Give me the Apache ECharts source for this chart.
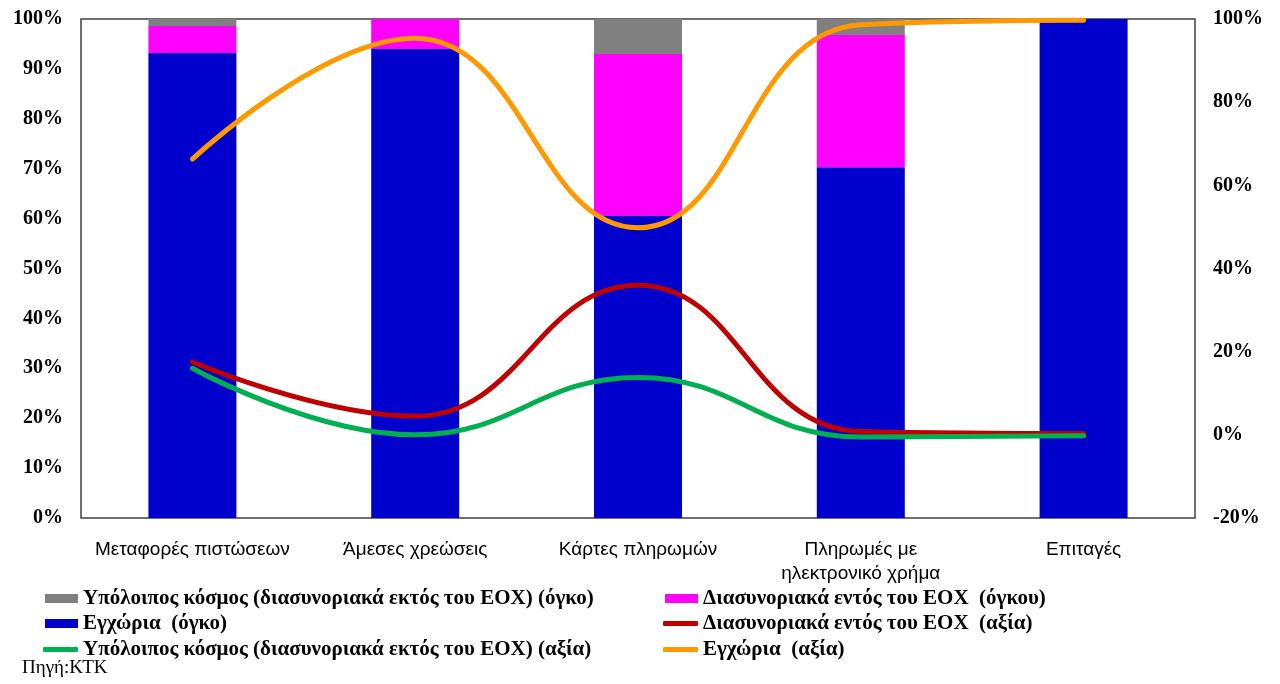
<!DOCTYPE html>
<html>
<head>
<meta charset="utf-8">
<title>Πληρωμές</title>
<script src="https://cdn.jsdelivr.net/npm/echarts@6/dist/echarts.min.js"></script>
<style>
  html, body { margin: 0; padding: 0; background: #fff; }
  #chart { width: 1280px; height: 684px; }
</style>
</head>
<body>
<div id="chart"></div>
<script>
// κατηγορίες
var categories = ["Μεταφορές πιστώσεων", "Άμεσες χρεώσεις", "Κάρτες πληρωμών", "Πληρωμές με\nηλεκτρονικό χρήμα", "Επιταγές"];

// όγκος (αριστερός άξονας, %)
var domesticVol = [93.2, 94.0, 60.5, 70.3, 100];
var eeaVol = [5.4, 6.0, 32.5, 26.5, 0];
var restVol = [1.4, 0, 7.0, 3.2, 0];

// αξία (δεξιός άξονας, %)
var domesticVal = [66.3, 95.4, 49.8, 98.6, 99.7];
var eeaVal = [17.5, 4.5, 36.0, 0.8, 0.3];
var restVal = [16.0, 0.0, 13.8, -0.5, -0.2];

var leftTicks = [0, 100, 10];
var rightTicks = [-20, 100, 20];

var names = {
  restVol: "Υπόλοιπος κόσμος (διασυνοριακά εκτός του ΕΟΧ) (όγκο)",
  eeaVol: "Διασυνοριακά εντός του ΕΟΧ  (όγκου)",
  domesticVol: "Εγχώρια  (όγκο)",
  eeaVal: "Διασυνοριακά εντός του ΕΟΧ  (αξία)",
  restVal: "Υπόλοιπος κόσμος (διασυνοριακά εκτός του ΕΟΧ) (αξία)",
  domesticVal: "Εγχώρια  (αξία)"
};

var serifBold = { fontFamily: "Liberation Serif", fontWeight: "bold", fontSize: 20, color: "#000" };

function legendItem(name, left, top, isLine) {
  return {
    data: [{ name: name, icon: isLine ? "roundRect" : "rect" }],
    left: left,
    top: top,
    itemWidth: isLine ? 35 : 33,
    itemHeight: isLine ? 5 : 9,
    itemGap: 2,
    selectedMode: false,
    textStyle: Object.assign({}, serifBold, { fontSize: 21 })
  };
}

var chart = echarts.init(document.getElementById("chart"));
var option = {
  animation: false,
  grid: {
    left: 81, right: 85, top: 19, bottom: 166,
    show: true, borderColor: "#404040", borderWidth: 1.5
  },
  legend: [
    legendItem(names.restVol, 40, 583, false),
    legendItem(names.domesticVol, 40, 608, false),
    legendItem(names.restVal, 38, 634, true),
    legendItem(names.eeaVol, 660, 583, false),
    legendItem(names.eeaVal, 658, 608, true),
    legendItem(names.domesticVal, 658, 634, true)
  ],
  graphic: [{
    type: "text", left: 22, top: 659,
    style: { text: "Πηγή:ΚΤΚ", font: "19px 'Liberation Serif'", fill: "#000" }
  }],
  xAxis: {
    type: "category",
    data: categories,
    axisLine: { show: false },
    axisTick: { show: false },
    axisLabel: {
      margin: 20, interval: 0,
      fontFamily: "Liberation Sans", fontSize: 19, color: "#000", lineHeight: 24
    }
  },
  yAxis: [{
    type: "value", min: leftTicks[0], max: leftTicks[1], interval: leftTicks[2],
    axisLine: { show: false }, axisTick: { show: false }, splitLine: { show: false },
    axisLabel: Object.assign({ formatter: "{value}%", margin: 18 }, serifBold)
  }, {
    type: "value", min: rightTicks[0], max: rightTicks[1], interval: rightTicks[2],
    axisLine: { show: false }, axisTick: { show: false }, splitLine: { show: false },
    axisLabel: Object.assign({ formatter: "{value}%", margin: 18 }, serifBold)
  }],
  series: [
    { name: names.domesticVol, type: "bar", stack: "vol", barWidth: 88, data: domesticVol, itemStyle: { color: "#0000CC" } },
    { name: names.eeaVol, type: "bar", stack: "vol", barWidth: 88, data: eeaVol, itemStyle: { color: "#FF00FF" } },
    { name: names.restVol, type: "bar", stack: "vol", barWidth: 88, data: restVol, itemStyle: { color: "#808080" } },
    { name: names.domesticVal, type: "line", yAxisIndex: 1, smooth: 0.45, showSymbol: false, data: domesticVal,
      itemStyle: { color: "#FF9900" }, lineStyle: { width: 5, cap: "round", color: "#FF9900" } },
    { name: names.eeaVal, type: "line", yAxisIndex: 1, smooth: 0.45, showSymbol: false, data: eeaVal,
      itemStyle: { color: "#C00000" }, lineStyle: { width: 5, cap: "round", color: "#C00000" } },
    { name: names.restVal, type: "line", yAxisIndex: 1, smooth: 0.45, showSymbol: false, data: restVal,
      itemStyle: { color: "#00B050" }, lineStyle: { width: 5, cap: "round", color: "#00B050" } }
  ]
};
chart.setOption(option);
</script>
</body>
</html>
